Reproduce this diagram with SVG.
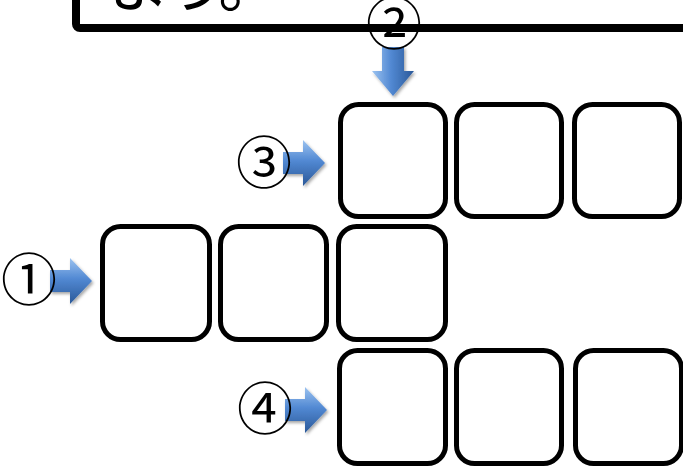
<svg xmlns="http://www.w3.org/2000/svg" width="683" height="468" viewBox="0 0 683 468">
<style>
.box{fill:#fff;stroke:#000;stroke-width:5}
.num{font-family:"Noto Sans CJK JP","DejaVu Sans",sans-serif;font-size:56px;fill:#000;text-anchor:middle}
.big{font-family:"Noto Sans CJK JP","DejaVu Sans",sans-serif;font-size:62px;fill:#000;letter-spacing:-5px}
.arr{fill:url(#gr);filter:url(#sh)}
.arrd{fill:url(#gd);filter:url(#sh)}
</style>
<defs>
<linearGradient id="gr" x1="0" y1="0" x2="0" y2="1">
<stop offset="0" stop-color="#9cc3f0"/>
<stop offset="0.45" stop-color="#5289d3"/>
<stop offset="1" stop-color="#2a5898"/>
</linearGradient>
<linearGradient id="gd" x1="0" y1="0" x2="1" y2="0">
<stop offset="0" stop-color="#9cc3f0"/>
<stop offset="0.45" stop-color="#5289d3"/>
<stop offset="1" stop-color="#2a5898"/>
</linearGradient>
<filter id="sh" x="-20%" y="-20%" width="150%" height="150%">
<feDropShadow dx="1.5" dy="2" stdDeviation="1.5" flood-color="#000" flood-opacity="0.35"/>
</filter>
<path id="ra" d="M0,-11 L20,-11 L20,-23 L42,0 L20,23 L20,11 L0,11 Z"/>
</defs>

<g id="frame">
<rect x="76" y="-60" width="700" height="88" rx="4" fill="none" stroke="#000" stroke-width="8"/>
<text class="big" x="108" y="7">よう。</text>
</g>

<g id="connectors">
<g id="arrow1"><use href="#ra" class="arr" transform="translate(50,281)"/></g>
<g id="arrow2"><path class="arrd" d="M382,47 L404,47 L404,71 L414,71 L393,96 L372,71 L382,71 Z"/></g>
<g id="arrow3"><use href="#ra" class="arr" transform="translate(283,163)"/></g>
<g id="arrow4"><use href="#ra" class="arr" transform="translate(285,410)"/></g>
</g>

<g id="label1"><text class="num" x="29" y="300">①</text></g>
<g id="label2"><text class="num" x="394" y="44">②</text></g>
<g id="label3"><text class="num" x="264" y="183">③</text></g>
<g id="label4"><text class="num" x="265" y="429">④</text></g>

<g id="r1c1"><rect class="box" x="340.5" y="104.5" width="105" height="112" rx="18"/></g>
<g id="r1c2"><rect class="box" x="456.5" y="104.5" width="105" height="112" rx="18"/></g>
<g id="r1c3"><rect class="box" x="574.5" y="104.5" width="105" height="112" rx="18"/></g>

<g id="r2c1"><rect class="box" x="102.5" y="226.5" width="107" height="113" rx="18"/></g>
<g id="r2c2"><rect class="box" x="220.5" y="226.5" width="106" height="113" rx="18"/></g>
<g id="r2c3"><rect class="box" x="338.5" y="226.5" width="107" height="113" rx="18"/></g>

<g id="r3c1"><rect class="box" x="339.5" y="350.5" width="106" height="113" rx="18"/></g>
<g id="r3c2"><rect class="box" x="456.5" y="350.5" width="105" height="113" rx="18"/></g>
<g id="r3c3"><rect class="box" x="575.5" y="350.5" width="106" height="113" rx="18"/></g>
</svg>
